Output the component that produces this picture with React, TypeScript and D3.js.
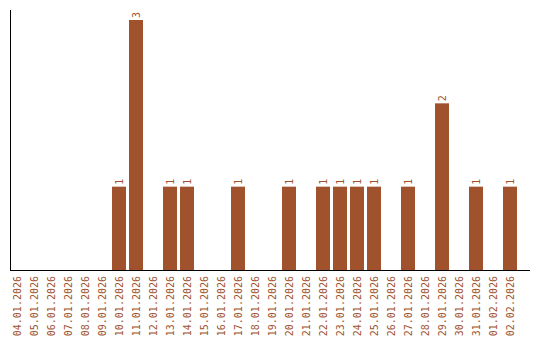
import React from "react";
import * as d3 from "d3";

const categories: string[] = [
  "04.01.2026", "05.01.2026", "06.01.2026", "07.01.2026", "08.01.2026", "09.01.2026",
  "10.01.2026", "11.01.2026", "12.01.2026", "13.01.2026", "14.01.2026", "15.01.2026",
  "16.01.2026", "17.01.2026", "18.01.2026", "19.01.2026", "20.01.2026", "21.01.2026",
  "22.01.2026", "23.01.2026", "24.01.2026", "25.01.2026", "26.01.2026", "27.01.2026",
  "28.01.2026", "29.01.2026", "30.01.2026", "31.01.2026", "01.02.2026", "02.02.2026",
];
const values: number[] = [
  0, 0, 0, 0, 0, 0,
  1, 3, 0, 1, 1, 0,
  0, 1, 0, 0, 1, 0,
  1, 1, 1, 1, 0, 1,
  0, 2, 0, 1, 0, 1,
];

const W = 540;
const H = 340;
const COLOR = "#a0522d";
const FONT = "'DejaVu Sans Mono', monospace";

export default function App() {
  const left = 10;
  const top = 20;
  const bottom = 270;
  const step = 17;
  const x = d3
    .scaleBand<string>()
    .domain(categories)
    .range([left, left + step * categories.length - 3])
    .paddingInner(3 / 17)
    .paddingOuter(0);
  const y = d3.scaleLinear().domain([0, d3.max(values) || 1]).range([bottom, top]);
  const bw = x.bandwidth();

  return (
    <svg
      width={W}
      height={H}
      style={{ position: "absolute", left: 0, top: 0, display: "block" }}
    >
      <rect x={0} y={0} width={W} height={H} fill="#fff" />
      {categories.map((c, i) => {
        const v = values[i];
        const x0 = x(c) as number;
        const cx = x0 + bw / 2;
        return (
          <g key={c}>
            {v > 0 && (
              <>
                <rect x={x0} y={y(v)} width={bw} height={bottom - y(v)} fill={COLOR} />
                <text
                  transform={`translate(${cx},${y(v) - 2}) rotate(-90)`}
                  dy="0.35em"
                  textAnchor="start"
                  fontFamily={FONT}
                  fontSize={10}
                  fill={COLOR}
                >
                  {v}
                </text>
              </>
            )}
            <text
              transform={`translate(${cx},${bottom + 6}) rotate(-90)`}
              dy="0.35em"
              textAnchor="end"
              fontFamily={FONT}
              fontSize={10}
              fill={COLOR}
            >
              {c}
            </text>
          </g>
        );
      })}
      <line x1={10.5} x2={10.5} y1={10} y2={bottom} stroke="#000" strokeWidth={1} />
      <line x1={10} x2={530} y1={bottom + 0.5} y2={bottom + 0.5} stroke="#000" strokeWidth={1} />
    </svg>
  );
}
